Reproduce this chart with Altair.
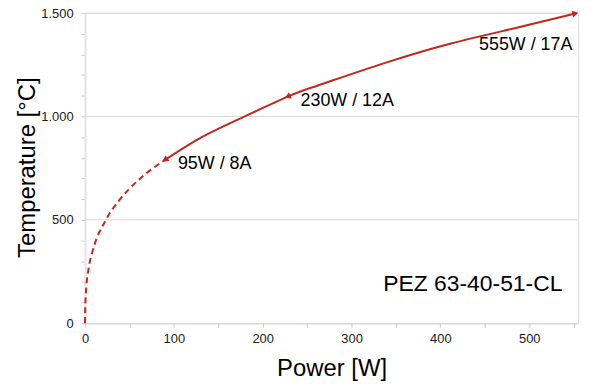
import altair as alt
import pandas as pd

# Curve
dashed_power = [0, 0.3, 1.5, 4, 8.5, 23.5, 38, 59, 90]
dashed_temp = [0, 90, 178, 265, 348, 500, 592, 688, 790]
solid_power = [90, 128, 173, 228, 262, 337, 412, 487, 552]
solid_temp = [790, 892, 987, 1096, 1150, 1258, 1353, 1430, 1498]

# Labelled operating points
point_power = [90, 228, 552]
point_temp = [790, 1096, 1498]
point_labels = ["95W / 8A", "230W / 12A", "555W / 17A"]

# Axis ticks
x_ticks = list(range(0, 551, 50))
y_ticks = list(range(0, 1501, 100))
y_grid = [500, 1000, 1500]

model_name = "PEZ 63-40-51-CL"

RED = "#c0281e"
FONT = "Liberation Sans"

dashed = pd.DataFrame({"P": dashed_power, "T": dashed_temp})
solid = pd.DataFrame({"P": solid_power, "T": solid_temp})
pts = pd.DataFrame({"P": point_power, "T": point_temp, "label": point_labels})
grid = pd.DataFrame({"T": y_grid})

xscale = alt.Scale(domain=[0, 555], nice=False, zero=True)
yscale = alt.Scale(domain=[0, 1500], nice=False)

xaxis = alt.Axis(
    values=x_ticks,
    labelExpr="datum.value % 100 === 0 ? datum.label : ''",
    labelOverlap=False, labelFlush=False,
    title="Power [W]",
    titleFontSize=24, titleFontWeight="normal", titleFont=FONT, titleColor="#000000",
    titleX=248, titleY=53, titleBaseline="alphabetic", titleAlign="center",
    labelFontSize=13, labelFont=FONT, labelColor="#222222",
    tickSize=4, tickColor="#c8c8c8", labelPadding=5,
    domainColor="#d0d0d0", domainWidth=1,
    grid=False,
)
yaxis = alt.Axis(
    values=y_ticks,
    labelExpr="datum.value % 500 === 0 ? replace(format(datum.value, ','), ',', '.') : ''",
    labelOverlap=False, labelFlush=False,
    title="Temperature [°C]",
    titleFontSize=24, titleFontWeight="normal", titleFont=FONT, titleColor="#000000",
    titleAngle=270, titleX=-51, titleY=155, titleBaseline="alphabetic", titleAlign="center",
    labelFontSize=13, labelFont=FONT, labelColor="#222222",
    tickSize=4, tickColor="#c8c8c8", labelPadding=8,
    domainColor="#e3e3e3", domainWidth=2,
    grid=False,
)

grid_rules = alt.Chart(grid).mark_rule(color="#d9d9d9", strokeWidth=1).encode(
    x=alt.value(0), x2=alt.value(496)
)

dash_line = alt.Chart(dashed).mark_line(
    color=RED, strokeWidth=2, strokeDash=[6, 4], interpolate="monotone"
)

solid_line = alt.Chart(solid).mark_line(
    color=RED, strokeWidth=2, interpolate="natural"
)

def marker(i, shape, angle):
    return alt.Chart(pts.iloc[[i]]).mark_point(
        shape=shape, angle=angle, filled=True, color=RED, opacity=1, size=50
    )

m1 = marker(0, "triangle-left", 326)
m2 = marker(1, "triangle-left", 335)
m3 = marker(2, "triangle-right", 347)

lab_left = alt.Chart(pts.iloc[[0, 1]]).mark_text(
    align="left", baseline="alphabetic", dx=13, dy=9, fontSize=18, font=FONT, color="#000000"
).encode(text="label:N")

lab_right = alt.Chart(pts.iloc[[2]]).mark_text(
    align="right", baseline="alphabetic", dx=-3, dy=37, fontSize=18, font=FONT, color="#000000"
).encode(text="label:N")

name_text = alt.Chart(pd.DataFrame({"t": [model_name]})).mark_text(
    align="left", baseline="alphabetic", fontSize=23, font=FONT, color="#000000"
).encode(x=alt.value(300), y=alt.value(280), text="t:N")

chart = alt.layer(
    grid_rules, dash_line, solid_line, m1, m2, m3, lab_left, lab_right, name_text
).encode(
    x=alt.X("P:Q", scale=xscale, axis=xaxis),
    y=alt.Y("T:Q", scale=yscale, axis=yaxis),
).properties(
    width=496, height=312,
    autosize=alt.AutoSizeParams(type="none"),
    padding={"left": 77.5, "top": 4, "right": 14, "bottom": 60},
).configure_view(stroke=None).configure(background="white")

chart.save("out.html", embed_options={"renderer": "svg", "actions": False})
